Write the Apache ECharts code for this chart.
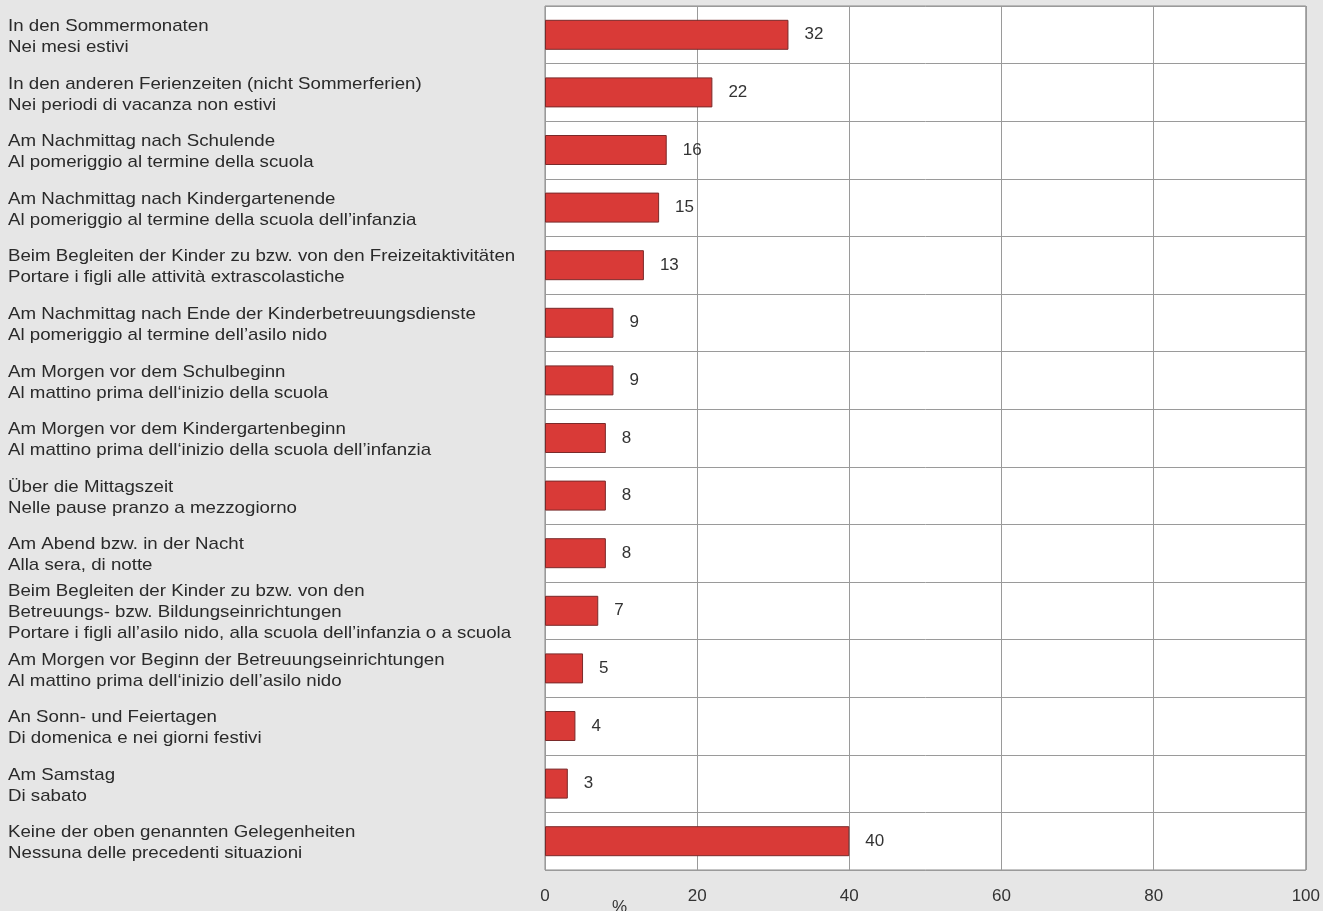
<!DOCTYPE html>
<html><head><meta charset="utf-8">
<script src="https://cdn.jsdelivr.net/npm/echarts@6/dist/echarts.min.js"></script>
<style>html,body{margin:0;padding:0;background:#e6e6e6;}#c{width:1323px;height:911px;}</style>
</head><body><div id="c"></div>
<script>
const categories = [
  "In den Sommermonaten\nNei mesi estivi",
  "In den anderen Ferienzeiten (nicht Sommerferien)\nNei periodi di vacanza non estivi",
  "Am Nachmittag nach Schulende\nAl pomeriggio al termine della scuola",
  "Am Nachmittag nach Kindergartenende\nAl pomeriggio al termine della scuola dell’infanzia",
  "Beim Begleiten der Kinder zu bzw. von den Freizeitaktivitäten\nPortare i figli alle attività extrascolastiche",
  "Am Nachmittag nach Ende der Kinderbetreuungsdienste\nAl pomeriggio al termine dell’asilo nido",
  "Am Morgen vor dem Schulbeginn\nAl mattino prima dell‘inizio della scuola",
  "Am Morgen vor dem Kindergartenbeginn\nAl mattino prima dell‘inizio della scuola dell’infanzia",
  "Über die Mittagszeit\nNelle pause pranzo a mezzogiorno",
  "Am Abend bzw. in der Nacht\nAlla sera, di notte",
  "Beim Begleiten der Kinder zu bzw. von den\nBetreuungs- bzw. Bildungseinrichtungen\nPortare i figli all’asilo nido, alla scuola dell’infanzia o a scuola",
  "Am Morgen vor Beginn der Betreuungseinrichtungen\nAl mattino prima dell‘inizio dell’asilo nido",
  "An Sonn- und Feiertagen\nDi domenica e nei giorni festivi",
  "Am Samstag\nDi sabato",
  "Keine der oben genannten Gelegenheiten\nNessuna delle precedenti situazioni"
];
const values = [32, 22, 16, 15, 13, 9, 9, 8, 8, 8, 7, 5, 4, 3, 40];
const xTicks = [0, 20, 40, 60, 80, 100];
const unitLabel = "%";

const chart = echarts.init(document.getElementById('c'), null, {renderer: 'canvas'});
const FONT = '"Liberation Sans", Arial, sans-serif';
chart.setOption({
  backgroundColor: '#e6e6e6',
  animation: false,
  grid: {left: 545, right: 15, top: 6, bottom: 41, show: true, backgroundColor: '#ffffff', borderColor: '#8a8a8a', borderWidth: 1},
  xAxis: {
    type: 'value', min: xTicks[0], max: xTicks[xTicks.length - 1], interval: 20,
    axisLine: {show: false}, axisTick: {show: false},
    axisLabel: {color: '#333', fontFamily: FONT, fontSize: 17, margin: 18},
    splitLine: {show: true, lineStyle: {color: '#9a9a9a', width: 1}}
  },
  yAxis: {
    type: 'category', data: categories, inverse: true,
    axisLine: {show: false}, axisTick: {show: false},
    axisLabel: {show: false},
    splitLine: {show: true, interval: 0, lineStyle: {color: '#9a9a9a', width: 1}}
  },
  series: [{
    type: 'bar', data: values, barWidth: 30,
    itemStyle: {color: '#d93a37', borderColor: '#7a2a2a', borderWidth: 1},
    label: {show: true, position: 'right', distance: 16, color: '#333', fontFamily: FONT, fontSize: 17}
  }]
});
// Category labels: left-aligned, positioned from the category axis scale
const labelGraphics = categories.map(function (c, i) {
  const y = chart.convertToPixel({yAxisIndex: 0}, i);
  return {
    type: 'text', x: 8, y: y + 2, scaleX: 1.1,
    style: {text: c, x: 0, y: 0, fill: '#2a2a2a', font: '17px ' + FONT, lineHeight: 21, verticalAlign: 'middle', align: 'left'}
  };
});
labelGraphics.push({type: 'text', left: 612, top: 899, style: {text: unitLabel, fill: '#333', font: '17px ' + FONT}});
chart.setOption({graphic: labelGraphics});
</script></body></html>
